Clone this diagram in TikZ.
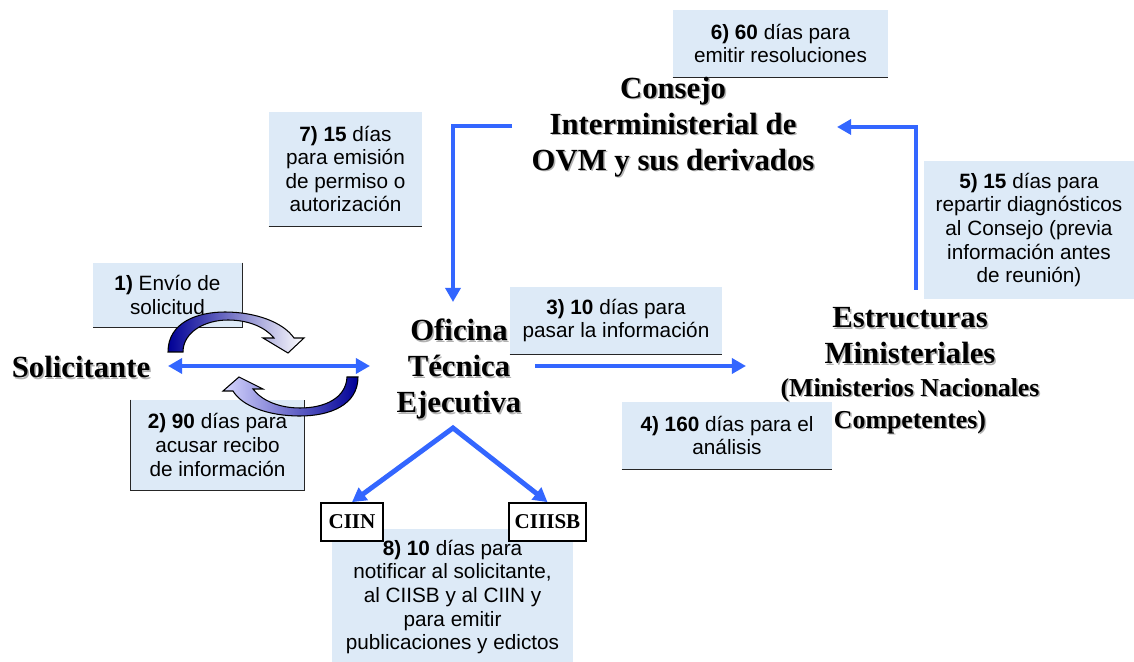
\documentclass[tikz,border=0pt]{standalone}
\usepackage{fontspec}
\setmainfont{Liberation Serif}
\newfontfamily\arialf{Liberation Sans}
\usetikzlibrary{arrows.meta,calc}
\definecolor{flowblue}{RGB}{51,102,255}
\definecolor{boxblue}{RGB}{221,234,247}
\definecolor{navyd}{RGB}{0,0,150}
\definecolor{midblue}{RGB}{40,40,200}
\definecolor{lilac}{RGB}{215,215,255}
\begin{document}
\begin{tikzpicture}[x=0.02cm,y=-0.02cm,
 tbox/.style={fill=boxblue, inner sep=0pt, align=center, font=\arialf\fontsize{11.8}{13.4}\selectfont},
 edge/.style={draw=black!85, line width=0.6pt},
 title/.style={align=center, inner sep=0pt, font=\bfseries\fontsize{17.5}{20.5}\selectfont},
 subtitle/.style={align=center, inner sep=0pt, font=\bfseries\fontsize{14.7}{18}\selectfont},
 shadowtxt/.style={text=black!30},
 flow/.style={draw=flowblue, line width=2.8pt, line join=miter, -{Triangle[length=8pt,width=8.5pt]}},
 flowboth/.style={draw=flowblue, line width=2.8pt, line join=miter, {Triangle[length=8pt,width=8.5pt]}-{Triangle[length=8pt,width=8.5pt]}},
 tag/.style={draw=black, line width=1pt, fill=white, inner sep=0pt, font=\bfseries\fontsize{12}{14}\selectfont},
 curved/.style={draw=black, line width=0.6pt},
]
\useasboundingbox (0,0) rectangle (1134,662);
\fill[white] (0,0) rectangle (1134,662);

% text boxes
\node[tbox, minimum width=4.3cm, minimum height=1.34cm] (b6) at (780.5,43.5) {\textbf{6) 60} días para\\emitir resoluciones};
\node[tbox, minimum width=3.06cm, minimum height=2.28cm] (b7) at (345.5,169) {\textbf{7) 15} días\\para emisión\\de permiso o\\autorización};
\node[tbox, minimum width=4.2cm, minimum height=2.76cm] (b5) at (1029,230) {\textbf{5) 15} días para\\repartir diagnósticos\\al Consejo (previa\\información antes\\de reunión)};
\node[tbox, minimum width=2.98cm, minimum height=1.28cm] (b1) at (167.5,295) {\textbf{1)} Envío de\\solicitud};
\node[tbox, minimum width=3.46cm, minimum height=1.8cm] (b2) at (217.5,445) {\textbf{2) 90} días para\\acusar recibo\\de información};
\node[tbox, minimum width=4.24cm, minimum height=1.34cm] (b3) at (616,320.5) {\textbf{3) 10} días para\\pasar la información};
\node[tbox, minimum width=4.2cm, minimum height=1.34cm] (b4) at (727,435.5) {\textbf{4) 160} días para el\\análisis};
\node[tbox, minimum width=4.82cm, minimum height=2.72cm] (b8) at (452.5,597) {\textbf{8) 10} días para\\notificar al solicitante,\\al CIISB y al CIIN y\\para emitir\\publicaciones y edictos};

\draw[edge] (b6.south west) -- (b6.south east);
\draw[edge] (b7.south west) -- (b7.south east);
\draw[edge] (b3.south west) -- (b3.south east);
\draw[edge] (b4.south west) -- (b4.south east);
\draw[edge] (b1.north east) -- (b1.south east) -- (b1.south west);
\draw[edge] (b2.north west) -- (b2.south west) -- (b2.south east) -- (b2.north east);

% titles with shadow
\node[title,shadowtxt] (sol-sh) at (82.5,368.5) {Solicitante};
\node[title] (sol) at (81,367) {Solicitante};
\node[title,shadowtxt] (con-sh) at (674.5,128.5) {Consejo\\Interministerial de\\OVM y sus derivados};
\node[title] (con) at (673,127) {Consejo\\Interministerial de\\OVM y sus derivados};
\node[title,shadowtxt] (ofi-sh) at (460.5,370.5) {Oficina\\Técnica\\Ejecutiva};
\node[title] (ofi) at (459,369) {Oficina\\Técnica\\Ejecutiva};
\node[title,shadowtxt] (est1-sh) at (911.5,337.5) {Estructuras\\Ministeriales};
\node[title] (est1) at (910,336) {Estructuras\\Ministeriales};
\node[subtitle,shadowtxt] (est2-sh) at (911.5,407.5) {(Ministerios Nacionales\\Competentes)};
\node[subtitle] (est2) at (910,406) {(Ministerios Nacionales\\Competentes)};

% tags
\node[tag, minimum width=1.24cm, minimum height=0.76cm] (ciin) at (352,522) {CIIN};
\node[tag, minimum width=1.54cm, minimum height=0.76cm] (ciiisb) at (547.5,522) {CIIISB};

% curved arrows
\path[curved, left color=navyd, middle color=midblue, right color=white]
  (168,352) .. controls (168,322) and (198,312) .. (225,312)
  .. controls (255,312) and (283,322) .. (294,338)
  -- (304,338) -- (288,353) -- (263,338) -- (274,338)
  .. controls (265,327) and (248,320) .. (228,320)
  .. controls (205,320) and (183,332) .. (183,352) -- cycle;
\path[curved, left color=lilac, middle color=white, right color=navyd]
  (358,377) .. controls (358,405) and (330,416) .. (300,416)
  .. controls (268,416) and (242,406) .. (233,391)
  -- (223,391) -- (239,377) -- (263,389) -- (253,389)
  .. controls (262,401) and (280,408) .. (300,408)
  .. controls (325,408) and (346,398) .. (347,377) -- cycle;

% flows
\draw[flowboth] ($(sol.center)+(87,-1)$) -- ($(ofi.center)+(-89,-3)$);
\draw[flow] ($(con.center)+(-161,-1)$) -| ($(ofi.center)+(-6,-67)$);
\draw[flow] ($(est1.center)+(6,-46)$) |- ($(con.center)+(164,0)$);
\draw[flow] ($(ofi.center)+(76,-3)$) -- ($(est1.center)+(-164,30)$);
\draw[flowboth] (ciin.north) -- ($(ofi.center)+(-6,59)$) -- (ciiisb.north);
\end{tikzpicture}
\end{document}
